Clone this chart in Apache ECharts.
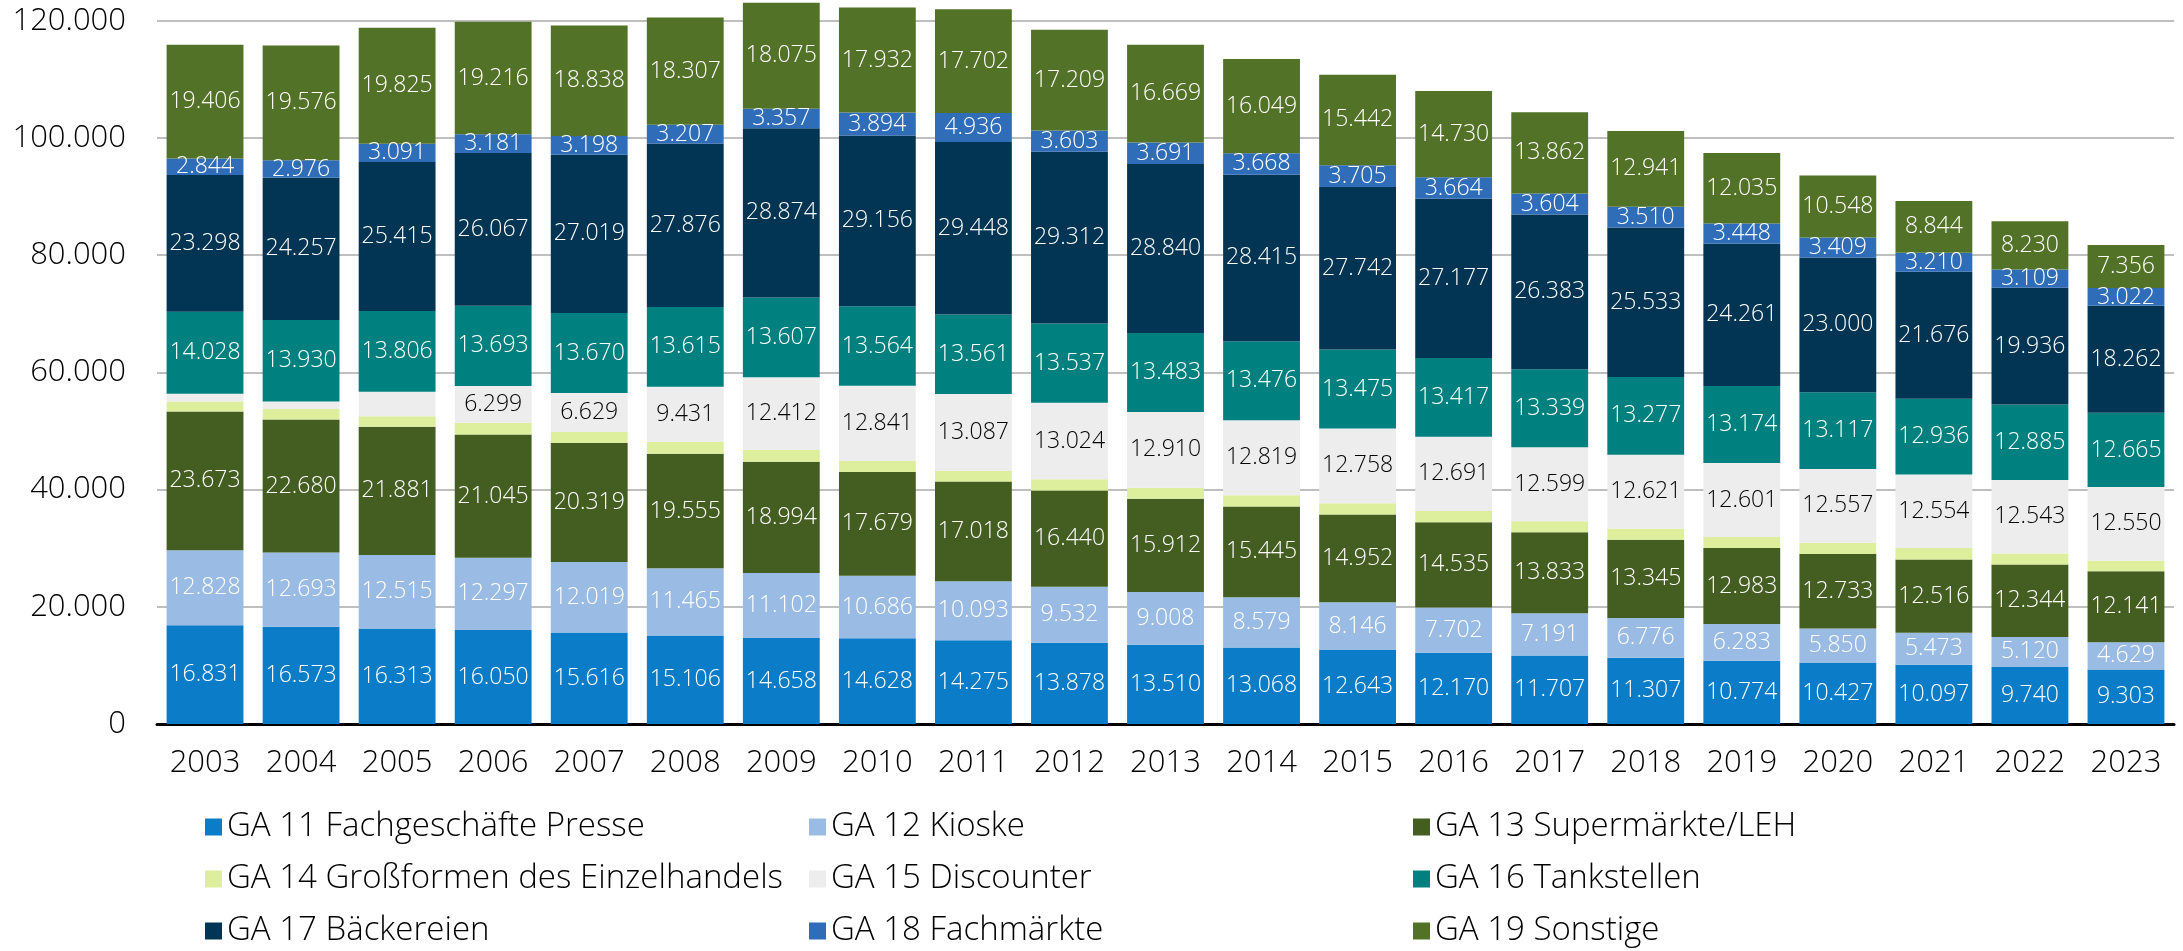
<!DOCTYPE html>
<html>
<head>
<meta charset="utf-8">
<script src="https://cdn.jsdelivr.net/npm/echarts@6/dist/echarts.min.js"></script>
<style>
html,body{margin:0;padding:0;background:#fff;}
#chart{width:2183px;height:951px;}
</style>
</head>
<body>
<div id="chart"></div>
<script>
const years = ['2003','2004','2005','2006','2007','2008','2009','2010','2011','2012','2013','2014','2015','2016','2017','2018','2019','2020','2021','2022','2023'];
const seriesNames = ['GA 11 Fachgeschäfte Presse','GA 12 Kioske','GA 13 Supermärkte/LEH','GA 14 Großformen des Einzelhandels','GA 15 Discounter','GA 16 Tankstellen','GA 17 Bäckereien','GA 18 Fachmärkte','GA 19 Sonstige'];
const ga11 = [16831,16573,16313,16050,15616,15106,14658,14628,14275,13878,13510,13068,12643,12170,11707,11307,10774,10427,10097,9740,9303];
const ga12 = [12828,12693,12515,12297,12019,11465,11102,10686,10093,9532,9008,8579,8146,7702,7191,6776,6283,5850,5473,5120,4629];
const ga13 = [23673,22680,21881,21045,20319,19555,18994,17679,17018,16440,15912,15445,14952,14535,13833,13345,12983,12733,12516,12344,12141];
const ga14 = [1700,1820,1820,1990,1875,1990,1990,1875,1820,1930,1875,1930,1930,1930,1875,1875,1875,1930,1930,1875,1800];
const ga15 = [1300,1250,4150,6299,6629,9431,12412,12841,13087,13024,12910,12819,12758,12691,12599,12621,12601,12557,12554,12543,12550];
const ga16 = [14028,13930,13806,13693,13670,13615,13607,13564,13561,13537,13483,13476,13475,13417,13339,13277,13174,13117,12936,12885,12665];
const ga17 = [23298,24257,25415,26067,27019,27876,28874,29156,29448,29312,28840,28415,27742,27177,26383,25533,24261,23000,21676,19936,18262];
const ga18 = [2844,2976,3091,3181,3198,3207,3357,3894,4936,3603,3691,3668,3705,3664,3604,3510,3448,3409,3210,3109,3022];
const ga19 = [19406,19576,19825,19216,18838,18307,18075,17932,17702,17209,16669,16049,15442,14730,13862,12941,12035,10548,8844,8230,7356];
const yTicks = [0,20000,40000,60000,80000,100000,120000];

const values = [ga11,ga12,ga13,ga14,ga15,ga16,ga17,ga18,ga19];
const colors = ['#0B7DC8','#9ABBE4','#445E21','#DDEE9C','#EDEDED','#00807F','#023453','#2F6DB9','#527228'];
const labelColors = ['#fff','#fff','#fff','#fff','#000','#fff','#fff','#fff','#fff'];
const showLabel = [true,true,true,false,true,true,true,true,true];

function de(v){
  const s = String(Math.round(v));
  return s.replace(/\B(?=(\d{3})+(?!\d))/g,'.');
}
const FONT = '"Open Sans", "Liberation Sans", sans-serif';
const FW = 300;

const series = values.map((arr,i)=>({
  name: seriesNames[i],
  type:'bar',
  stack:'total',
  clip:false,
  barCategoryGap:'20%',
  data: arr,
  itemStyle:{color: colors[i]},
  emphasis:{disabled:true},
  label:{
    show: showLabel[i],
    position:'inside',
    color: labelColors[i],
    fontFamily: FONT,
    fontWeight: FW,
    fontSize: 23,
    textBorderWidth:0,
    formatter: p => (i===4 && p.value < 5000) ? '' : de(p.value)
  }
}));

const legendText = {color:'#000', fontFamily: FONT, fontWeight: FW, fontSize: 33, lineHeight: 36};
function mkLegend(left, names){
  return {left:left, top:809, orient:'vertical', padding:0, itemWidth:17, itemHeight:17, itemGap:16,
    icon:'rect', textStyle: legendText, data: names, selectedMode:false};
}

const chart = echarts.init(document.getElementById('chart'), null, {renderer:'canvas'});
chart.setOption({
  animation:false,
  backgroundColor:'#fff',
  grid:{left:157, right:9, top:20.7, bottom:227, containLabel:false},
  legend:[
    mkLegend(205,[seriesNames[0],seriesNames[3],seriesNames[6]]),
    mkLegend(809,[seriesNames[1],seriesNames[4],seriesNames[7]]),
    mkLegend(1413,[seriesNames[2],seriesNames[5],seriesNames[8]])
  ],
  xAxis:{
    type:'category', data: years,
    axisLine:{show:true, lineStyle:{color:'#000', width:3}},
    axisTick:{show:false},
    axisLabel:{color:'#000', fontFamily: FONT, fontWeight: FW, fontSize:31, margin:24}
  },
  yAxis:{
    type:'value', min:yTicks[0], max:yTicks[yTicks.length-1], interval:yTicks[1]-yTicks[0],
    axisLine:{show:false}, axisTick:{show:false},
    splitLine:{lineStyle:{color:'#BFBFBF', width:2}},
    axisLabel:{color:'#000', fontFamily: FONT, fontWeight: FW, fontSize:31, margin:31, formatter: v => de(v)}
  },
  series: series
});
</script>
</body>
</html>
